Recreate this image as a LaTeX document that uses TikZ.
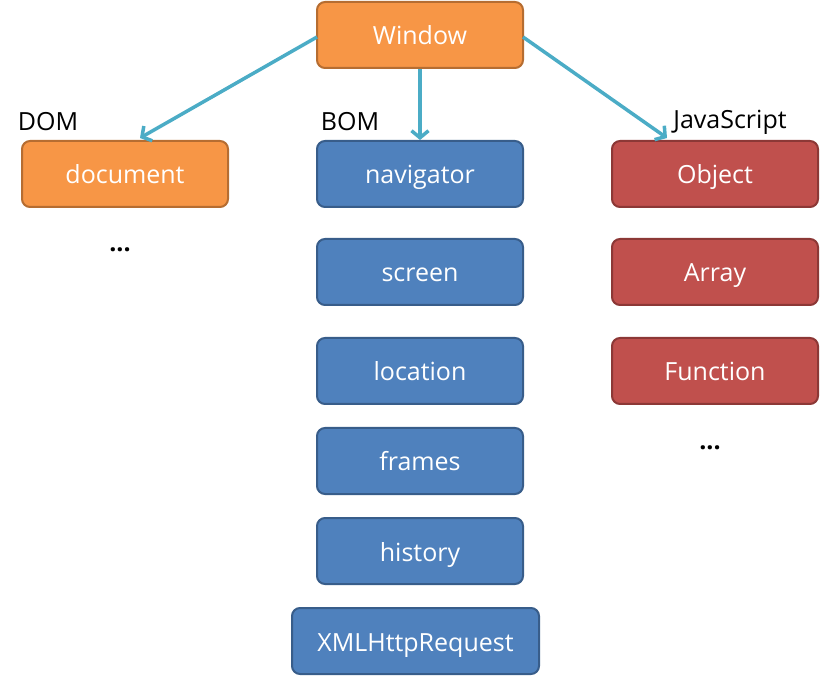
\documentclass[tikz,border=0pt]{standalone}
\usepackage{fontspec}
\setmainfont{Open Sans}
\usetikzlibrary{arrows.meta}
\definecolor{ofill}{HTML}{F79646}
\definecolor{oline}{HTML}{B66D31}
\definecolor{bfill}{HTML}{4F81BD}
\definecolor{bline}{HTML}{385D8A}
\definecolor{rfill}{HTML}{C0504D}
\definecolor{rline}{HTML}{8C3836}
\definecolor{acol}{HTML}{4BACC6}
\tikzset{
  box/.style={rounded corners=8pt, line width=2pt, minimum width=206pt, minimum height=66pt,
    inner sep=0pt, text height=24pt, text depth=4pt, text=white, font=\fontsize{25}{28}\selectfont},
  obox/.style={box, draw=oline, fill=ofill},
  bbox/.style={box, draw=bline, fill=bfill},
  rbox/.style={box, draw=rline, fill=rfill},
  lbl/.style={font=\fontsize{25}{28}\selectfont, text=black, inner sep=0pt},
  conn/.style={draw=acol, line width=3.5pt, -{Straight Barb[length=7pt,width=17pt,line width=3.5pt]}}
}
\begin{document}
\begin{tikzpicture}[x=1pt,y=-1pt]
\useasboundingbox (0,0) rectangle (820,676);
\node[obox] (win) at (420,35) {Window};
\node[obox] (doc) at (125,174) {document};
\node[bbox] (nav) at (420,174) {navigator};
\node[bbox] (scr) at (420,272) {screen};
\node[bbox] (loc) at (420,371) {location};
\node[bbox] (fra) at (420,461) {frames};
\node[bbox] (his) at (420,551) {history};
\node[bbox, minimum width=247pt] (xhr) at (415.5,641) {XMLHttpRequest};
\node[rbox] (obj) at (715,174) {Object};
\node[rbox] (arr) at (715,272) {Array};
\node[rbox] (fun) at (715,371) {Function};
\node[lbl] (dom) at (48,122) {DOM};
\node[lbl] (bom) at (350,122) {BOM};
\node[lbl] (js) at (730,122) {JavaScript};
\node[lbl, font=\fontsize{25}{28}\selectfont\bfseries] (d1) at (120,250) {...};
\node[lbl, font=\fontsize{25}{28}\selectfont\bfseries] (d2) at (710,448) {...};
\coordinate (wl) at (317,37);
\coordinate (wr) at (523,37);
\coordinate (dt) at (140,138);
\coordinate (jt) at (667,138);
\draw[conn] (wl) -- (dt);
\draw[conn] (win.south) -- (nav.north);
\draw[conn] (wr) -- (jt);
\end{tikzpicture}
\end{document}
